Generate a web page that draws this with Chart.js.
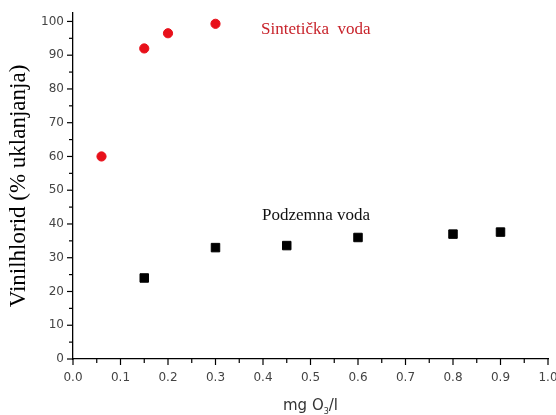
<!DOCTYPE html>
<html lang="sr">
<head>
    <meta charset="UTF-8">
    <title>Vinilhlorid - uklanjanje ozonom</title>
    <script src="https://cdn.jsdelivr.net/npm/chart.js@4/dist/chart.umd.min.js"></script>
    <style>
        html, body { margin: 0; padding: 0; background: #fff; }
        #wrap { width: 556px; height: 415px; }
    </style>
</head>
<body>
    <div id="wrap"><canvas id="ozonChart" width="556" height="415"></canvas></div>

    <script>
        // doza ozona (mg O3/l) i procenat uklanjanja
        const sintetickaDoza = [0.06, 0.15, 0.2, 0.3];
        const sintetickaUklanjanje = [60, 92, 96.5, 99.3];
        const podzemnaDoza = [0.15, 0.3, 0.45, 0.6, 0.8, 0.9];
        const podzemnaUklanjanje = [24, 33, 33.6, 36, 37, 37.6];

        const xTickValues = [0, 0.1, 0.2, 0.3, 0.4, 0.5, 0.6, 0.7, 0.8, 0.9, 1.0];
        const yTickValues = [0, 10, 20, 30, 40, 50, 60, 70, 80, 90, 100];

        const seriesNames = ['Sintetička  voda', 'Podzemna voda'];
        const yTitle = 'Vinilhlorid (% uklanjanja)';

        const toPoints = (xs, ys) => xs.map((x, i) => ({ x: x, y: ys[i] }));

        // crtice na osama (glavne i pomocne) + natpisi serija i naslov x ose
        const axisDecor = {
            id: 'axisDecor',
            afterDraw(chart) {
                const ctx = chart.ctx;
                const xs = chart.scales.x, ys = chart.scales.y;
                const area = chart.chartArea;
                ctx.save();
                ctx.strokeStyle = '#000';
                ctx.lineWidth = 1.2;
                for (let i = 0; i <= 20; i++) {
                    const px = xs.getPixelForValue(i * 0.05);
                    const len = i % 2 === 0 ? 6 : 4;
                    ctx.beginPath();
                    ctx.moveTo(px, area.bottom);
                    ctx.lineTo(px, area.bottom + len);
                    ctx.stroke();
                }
                for (let i = 0; i <= 20; i++) {
                    const py = ys.getPixelForValue(i * 5);
                    const len = i % 2 === 0 ? 6 : 4;
                    ctx.beginPath();
                    ctx.moveTo(area.left, py);
                    ctx.lineTo(area.left - len, py);
                    ctx.stroke();
                }

                // natpisi serija
                ctx.font = '17px "Liberation Serif", "Times New Roman", serif';
                ctx.textBaseline = 'alphabetic';
                ctx.textAlign = 'left';
                ctx.fillStyle = '#c8232b';
                ctx.fillText(seriesNames[0], xs.getPixelForValue(0.396), ys.getPixelForValue(96.3));
                ctx.fillStyle = '#111';
                ctx.fillText(seriesNames[1], xs.getPixelForValue(0.398), ys.getPixelForValue(41.2));

                // naslov x ose sa indeksom
                ctx.fillStyle = '#333';
                const big = '15px "DejaVu Sans", sans-serif';
                const small = '8px "DejaVu Sans", sans-serif';
                const a = 'mg O', b = '3', c = '/l';
                ctx.font = big;
                const wa = ctx.measureText(a).width, wc = ctx.measureText(c).width;
                ctx.font = small;
                const wb = ctx.measureText(b).width;
                const x0 = (area.left + area.right) / 2 - (wa + wb + wc) / 2;
                const base = area.bottom + 51;
                ctx.font = big;
                ctx.fillText(a, x0, base);
                ctx.font = small;
                ctx.fillText(b, x0 + wa, base + 4);
                ctx.font = big;
                ctx.fillText(c, x0 + wa + wb, base);
                ctx.restore();
            }
        };

        const tickFont = { family: '"DejaVu Sans", sans-serif', size: 12 };

        new Chart(document.getElementById('ozonChart'), {
            type: 'scatter',
            data: {
                datasets: [{
                    label: seriesNames[0],
                    data: toPoints(sintetickaDoza, sintetickaUklanjanje),
                    pointStyle: 'circle',
                    pointRadius: 4.6,
                    backgroundColor: '#e8101a',
                    borderColor: '#e8101a',
                    borderWidth: 1
                }, {
                    label: seriesNames[1],
                    data: toPoints(podzemnaDoza, podzemnaUklanjanje),
                    pointStyle: 'rect',
                    pointRadius: 6,
                    backgroundColor: '#000',
                    borderColor: '#000',
                    borderWidth: 1
                }]
            },
            options: {
                responsive: false,
                animation: false,
                layout: { padding: { left: 0, right: 8, top: 13, bottom: 0 } },
                plugins: {
                    legend: { display: false },
                    tooltip: { enabled: false }
                },
                scales: {
                    x: {
                        type: 'linear',
                        min: 0,
                        max: 1,
                        grid: { display: false, drawTicks: false },
                        border: { color: '#000', width: 1.3 },
                        ticks: {
                            padding: 12,
                            color: '#444',
                            font: tickFont,
                            maxRotation: 0,
                            callback: v => v.toFixed(1)
                        },
                        afterBuildTicks(scale) {
                            scale.ticks = xTickValues.map(v => ({ value: v }));
                        },
                        afterFit(scale) {
                            scale.height = 56;
                            scale.paddingLeft = 0;
                            scale.paddingRight = 0;
                        }
                    },
                    y: {
                        type: 'linear',
                        min: 0,
                        max: 102.5,
                        grid: { display: false, drawTicks: false },
                        border: { color: '#000', width: 1.3 },
                        ticks: {
                            padding: 9,
                            color: '#444',
                            font: tickFont
                        },
                        afterBuildTicks(scale) {
                            scale.ticks = yTickValues.map(v => ({ value: v }));
                        },
                        title: {
                            display: true,
                            text: yTitle,
                            color: '#000',
                            font: { family: '"Liberation Serif", "Times New Roman", serif', size: 23 },
                            padding: { top: 5, bottom: 0 }
                        },
                        afterFit(scale) {
                            scale.width = 73;
                            scale.paddingTop = 0;
                            scale.paddingBottom = 0;
                        }
                    }
                }
            },
            plugins: [axisDecor]
        });
    </script>
</body>
</html>
